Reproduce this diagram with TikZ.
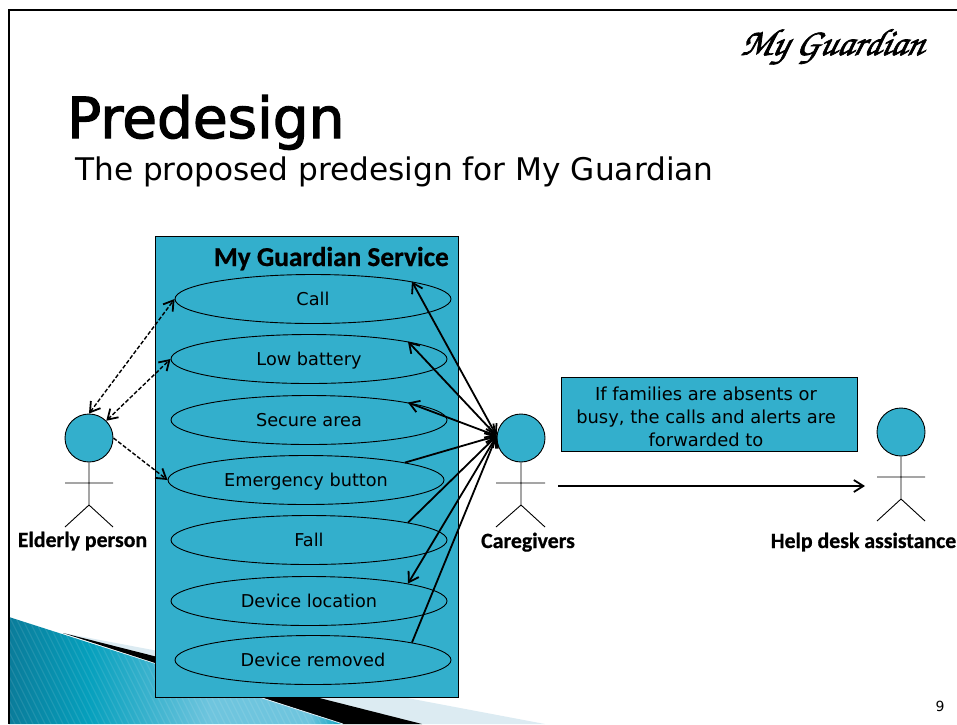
\documentclass[tikz,border=0pt]{standalone}
\usepackage{fontspec}
\setmainfont{DejaVu Sans}
\newfontfamily\titlefont{DejaVu Sans}[RawFeature={embolden=2.2}]
\newfontfamily\lblfont{Carlito}[BoldFont=Carlito Bold,BoldFeatures={RawFeature={embolden=0.7}}]
\usetikzlibrary{shapes.geometric,arrows.meta}
\definecolor{fillb}{HTML}{33AFCC}
\definecolor{lightw}{HTML}{DCEBF2}
\definecolor{tealA}{HTML}{0A7C9A}
\definecolor{tealB}{HTML}{06A0BD}
\definecolor{tealC}{HTML}{6FC5DE}
\pgfdeclarehorizontalshading{tealband}{100bp}{
 color(0bp)=(tealA); color(25bp)=(tealA); color(37bp)=(tealB); color(55bp)=(tealC); color(70bp)=(tealC); color(75bp)=(tealB); color(100bp)=(tealB)}
\tikzset{
 usecase/.style={draw=black,fill=fillb,ellipse,minimum width=276pt,minimum height=49pt,inner sep=0pt,line width=.9pt,text height=13pt,text depth=0pt,font=\fontsize{17.7}{20}\selectfont},
 head/.style={draw=black,fill=fillb,circle,minimum size=48pt,inner sep=0pt,line width=.9pt},
 limb/.style={line width=.9pt},
 lbl/.style={font=\lblfont\bfseries\fontsize{21.8}{24}\selectfont,inner sep=0pt},
 dash arrow/.style={dash pattern=on 4pt off 2pt,line width=1.4pt},
 solid arrow/.style={line width=1.8pt},
 barb/.tip={Straight Barb[length=9.5pt,width=12pt,line width=1.8pt]},
}
\begin{document}
\begin{tikzpicture}[x=1pt,y=-1pt]
\useasboundingbox (0,0) rectangle (957,724);
\begin{scope}
\clip (0,0) rectangle (957,724);
\fill[lightw] (63,633) -- (545,724) -- (343,724) -- cycle;
\fill[black] (63,633) -- (422,724) -- (343,724) -- cycle;
\shade[shading=tealband] (9,617) -- (343,724) -- (9,724) -- cycle;
\begin{scope}
\clip (9,617) -- (343,724) -- (9,724) -- cycle;
\foreach \xs in {-60,-54,...,340} \draw[white,opacity=.09,line width=1.2pt] (\xs,610) -- ++(58,116);
\end{scope}
\draw[lightw,line width=.8pt] (200,678) -- (343,724);
\draw[line width=2pt] (9,724) -- (9,10) -- (957,10);
\end{scope}
\node[inner sep=0pt,anchor=base,xslant=.25] (brand) at (831,55) {\special{pdf:code 2 Tr 0.7 w}\fontencoding{T1}\fontfamily{pzc}\fontseries{m}\fontshape{it}\fontsize{38}{40}\selectfont My Guardian\special{pdf:code 0 Tr}};
\node[inner sep=0pt,anchor=base west,font=\titlefont\fontsize{56.5}{60}\selectfont] (title) at (67,138) {Predesign};
\node[inner sep=0pt,anchor=base west,font=\fontsize{31.2}{36}\selectfont] (sub) at (75,180) {The proposed predesign for My Guardian};
\node[draw=black,fill=fillb,line width=.9pt,minimum width=303pt,minimum height=461pt,inner sep=0pt] (svc) at (306.5,466.5) {};
\node[lbl,font=\lblfont\bfseries\fontsize{27.3}{30}\selectfont,anchor=base east] (svct) at (449,266) {My Guardian Service};
\node[usecase] (call) at (313,299) {Call};
\node[usecase] (lowb) at (309,359) {Low battery};
\node[usecase] (secure) at (309,420) {Secure area};
\node[usecase] (emerg) at (306,480) {Emergency button};
\node[usecase] (fall) at (309,540) {Fall};
\node[usecase] (loc) at (309,601) {Device location};
\node[usecase] (rem) at (313,660) {Device removed};
% actors
\node[head] (eld) at (89,438) {};
\coordinate (eldH) at (89,505);
\draw[limb] (eld.south) -- (eldH) -- (65,527) (eldH) -- (113,527) (65,483) -- (113,483);
\node[lbl,anchor=base] (eldL) at (82.5,547) {Elderly person};
\node[head] (care) at (521,438) {};
\coordinate (careH) at (521,505);
\draw[limb] (care.south) -- (careH) -- (496,527) (careH) -- (545,527) (496,483) -- (545,483);
\node[lbl,anchor=base] (careL) at (528,548) {Caregivers};
\node[head] (help) at (901,432) {};
\coordinate (helpH) at (901,499);
\draw[limb] (help.south) -- (helpH) -- (877,521) (helpH) -- (925,521) (877,477) -- (925,477);
\node[lbl,anchor=base] (helpL) at (863.5,548) {Help desk assistance};
% note
\node[draw=black,fill=fillb,line width=.7pt,minimum width=296pt,minimum height=74pt,inner sep=0pt] (note) at (709,414) {};
\node[inner sep=0pt,align=center,font=\fontsize{17.9}{23}\selectfont] (notetxt) at (706,417) {If families are absents or\\busy, the calls and alerts are\\forwarded to};
% dashed
\draw[dash arrow,{barb}-{barb}] (eld.north) -- (call.west);
\draw[dash arrow,{barb}-{barb}] (eld.45) -- (lowb.west);
\draw[dash arrow,-{barb}] (eld.east) -- (emerg.west);
% solid
\draw[solid arrow,{barb}-{barb}] (call.10) -- (care.175);
\draw[solid arrow,{barb}-{barb}] (lowb.10) -- (care.175);
\draw[solid arrow,{barb}-{barb}] (secure.10) -- (care.175);
\draw[solid arrow,-{barb}] (emerg.10) -- (care.175);
\draw[solid arrow,-{barb}] (fall.10) -- (care.175);
\draw[solid arrow,{barb}-{barb}] (loc.10) -- (care.175);
\draw[solid arrow,-{barb}] (rem.10) -- (care.175);
\coordinate (fwdA) at (558,486);
\coordinate (fwdB) at (865,486);
\draw[solid arrow,-{barb}] (fwdA) -- (fwdB);
\node[inner sep=0pt,anchor=base,font=\fontsize{14}{16}\selectfont] (pg) at (940,711) {9};
\end{tikzpicture}
\end{document}
